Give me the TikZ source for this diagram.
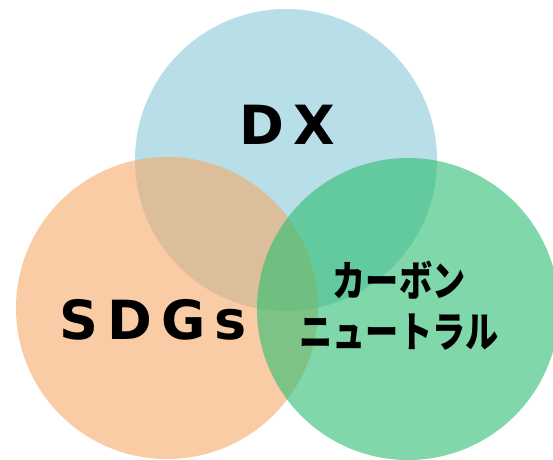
\documentclass[tikz,border=0pt]{standalone}
\usepackage{fontspec}
\newfontfamily\latb[LetterSpace=17]{DejaVu Sans}
\newfontfamily\jp{Noto Sans CJK JP}
\definecolor{dxblue}{RGB}{184,222,232}
\definecolor{sdgorange}{RGB}{245,170,105}
\definecolor{cngreen}{RGB}{43,190,113}
\tikzset{
  venn/.style={circle, minimum size=302pt, inner sep=0pt, draw=none},
  bigtxt/.style={font=\latb\bfseries\fontsize{54}{60}\selectfont, text=black, inner sep=0pt},
  jptxt/.style={font=\jp\bfseries\fontsize{42}{51}\selectfont, text=black, inner sep=0pt, align=center, xscale=0.79}
}
\begin{document}
\begin{tikzpicture}[x=1pt,y=-1pt]
\useasboundingbox (0,0) rectangle (553,459);
\clip (0,0) rectangle (553,459);
\node[venn, fill=dxblue] (cdx) at (286,160) {};
\node[venn, fill=sdgorange, fill opacity=0.6] (csdg) at (167,308) {};
\node[venn, fill=cngreen, fill opacity=0.6] (ccn) at (408,309) {};
\node[bigtxt] (tdx) at (287,125) {DX};
\node[bigtxt] (tsdg) at (153,320) {SDGs};
\node[jptxt] (tcn) at (399,306) {カーボン\\ニュートラル};
\end{tikzpicture}
\end{document}
